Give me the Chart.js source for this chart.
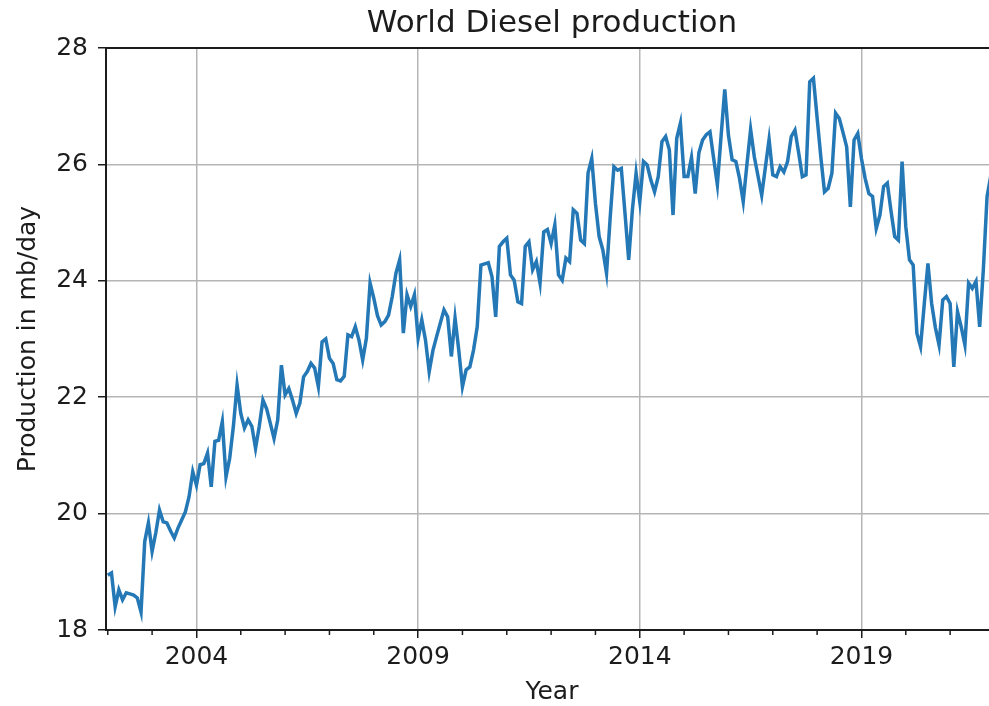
<!DOCTYPE html>
<html>
<head>
<meta charset="utf-8">
<script src="https://cdn.jsdelivr.net/npm/chart.js@4.4.1/dist/chart.umd.min.js"></script>
<style>
  html, body { margin: 0; padding: 0; background: #fff; overflow: hidden; }
  canvas { display: block; }
</style>
</head>
<body>
<canvas id="grafico" width="1000" height="706"></canvas>
<script>
// monthly values, Jan 2002 onwards (mb/day)
const startYear = 2002;
const production = [
  18.94, 18.98, 18.40, 18.69, 18.52, 18.64, 18.62, 18.60, 18.55, 18.31, 19.52, 19.84,
  19.35, 19.67, 20.06, 19.86, 19.84, 19.70, 19.58, 19.75, 19.89, 20.03, 20.29, 20.72,
  20.49, 20.84, 20.86, 21.04, 20.46, 21.24, 21.26, 21.58, 20.63, 20.95, 21.50, 22.21,
  21.72, 21.47, 21.61, 21.50, 21.12, 21.50, 21.95, 21.80, 21.55, 21.29, 21.61, 22.55,
  22.04, 22.15, 21.95, 21.72, 21.90, 22.35, 22.44, 22.58, 22.50, 22.18, 22.95, 23.00,
  22.67, 22.58, 22.30, 22.28, 22.36, 23.07, 23.04, 23.21, 22.98, 22.64, 23.01, 23.96,
  23.70, 23.40, 23.24, 23.30, 23.41, 23.73, 24.13, 24.36, 23.10, 23.76, 23.56, 23.76,
  23.01, 23.33, 22.98, 22.44, 22.80, 23.04, 23.27, 23.50, 23.38, 22.70, 23.36, 22.81,
  22.18, 22.47, 22.52, 22.81, 23.21, 24.27, 24.29, 24.31, 24.07, 23.38, 24.59, 24.67,
  24.73, 24.10, 24.01, 23.64, 23.61, 24.59, 24.67, 24.19, 24.33, 23.96, 24.84, 24.88,
  24.64, 24.96, 24.10, 24.01, 24.39, 24.33, 25.22, 25.16, 24.70, 24.64, 25.85, 26.10,
  25.33, 24.76, 24.53, 24.13, 25.10, 25.96, 25.90, 25.93, 25.16, 24.36, 25.22, 25.85,
  25.36, 26.05, 25.99, 25.73, 25.53, 25.79, 26.39, 26.48, 26.25, 25.13, 26.45, 26.71,
  25.79, 25.79, 26.12, 25.50, 26.20, 26.42, 26.51, 26.56, 26.10, 25.65, 26.48, 27.29,
  26.50, 26.08, 26.05, 25.76, 25.36, 26.00, 26.60, 26.13, 25.80, 25.47, 25.95, 26.43,
  25.82, 25.79, 25.96, 25.87, 26.05, 26.48, 26.59, 26.20, 25.79, 25.82, 27.42, 27.48,
  26.80, 26.13, 25.53, 25.59, 25.85, 26.88, 26.79, 26.55, 26.30, 25.27, 26.42, 26.53,
  26.10, 25.76, 25.50, 25.45, 24.90, 25.13, 25.62, 25.68, 25.20, 24.76, 24.70, 26.05,
  24.93, 24.36, 24.27, 23.10, 22.87, 23.60, 24.30, 23.61, 23.20, 22.90, 23.67, 23.73,
  23.61, 22.52, 23.47, 23.21, 22.90, 23.96, 23.87, 23.99, 23.21, 24.20, 25.45, 25.80
];
const majorYears = [2004, 2009, 2014, 2019];
const yTicks = [18, 20, 22, 24, 26, 28];
const titulo = 'World Diesel production';
const tituloX = 'Year';
const tituloY = 'Production in mb/day';

const puntos = production.map((v, i) => ({ x: startYear + i / 12, y: v }));

const fuente = 'DejaVu Sans';
const negro = '#1c1c1c';

// top spine, minor year ticks and the title centred over the axes
const marco = {
    id: 'marco',
    afterDraw(chart) {
        const { ctx, chartArea: a, scales: { x } } = chart;
        ctx.save();
        ctx.strokeStyle = negro;
        ctx.lineWidth = 2;
        ctx.beginPath();
        ctx.moveTo(a.left, a.top);
        ctx.lineTo(a.right, a.top);
        ctx.lineTo(a.right, a.bottom);
        ctx.stroke();

        ctx.lineWidth = 1.5;
        for (let yr = Math.ceil(x.min); yr <= x.max; yr++) {
            if (majorYears.includes(yr)) continue;
            const px = x.getPixelForValue(yr);
            ctx.beginPath();
            ctx.moveTo(px, a.bottom);
            ctx.lineTo(px, a.bottom + 5);
            ctx.stroke();
        }

        ctx.fillStyle = negro;
        ctx.font = '31px "' + fuente + '"';
        ctx.textAlign = 'center';
        ctx.textBaseline = 'alphabetic';
        ctx.fillText(titulo, (a.left + a.right) / 2, 32);
        ctx.restore();
    }
};

const ctx = document.getElementById('grafico').getContext('2d');
const chart = new Chart(ctx, {
    type: 'line',
    data: {
        datasets: [{
            data: puntos,
            borderColor: '#2478b6',
            borderWidth: 3.5,
            pointRadius: 0,
            tension: 0
        }]
    },
    options: {
        responsive: false,
        animation: false,
        devicePixelRatio: 1,
        layout: { padding: { top: 48, right: 2, left: 0, bottom: 0 } },
        plugins: { legend: { display: false }, tooltip: { enabled: false } },
        scales: {
            x: {
                type: 'linear',
                min: 2001.96,
                max: 2022.08,
                afterBuildTicks: s => { s.ticks = majorYears.map(v => ({ value: v })); },
                afterFit: s => { s.height = 76; },
                grid: { color: '#b5b5b5', lineWidth: 1.5, tickColor: negro, tickLength: 8, tickWidth: 1.5 },
                border: { color: negro, width: 2 },
                ticks: {
                    font: { family: fuente, size: 25 },
                    color: negro,
                    padding: 4,
                    maxRotation: 0,
                    autoSkip: false,
                    callback: v => String(v)
                },
                title: {
                    display: true,
                    text: tituloX,
                    color: negro,
                    font: { family: fuente, size: 25, lineHeight: 1.2 },
                    padding: { top: 0, bottom: -1 }
                }
            },
            y: {
                min: 18,
                max: 28,
                afterBuildTicks: s => { s.ticks = yTicks.map(v => ({ value: v })); },
                afterFit: s => { s.width = 106; },
                grid: { color: '#b5b5b5', lineWidth: 1.5, tickColor: negro, tickLength: 8, tickWidth: 1.5 },
                border: { color: negro, width: 2 },
                ticks: {
                    font: { family: fuente, size: 25 },
                    color: negro,
                    padding: 10,
                    callback: v => String(v)
                },
                title: {
                    display: true,
                    text: tituloY,
                    color: negro,
                    font: { family: fuente, size: 25, lineHeight: 1.2 },
                    padding: { top: 13, bottom: 0 }
                }
            }
        }
    },
    plugins: [marco]
});
</script>
</body>
</html>
